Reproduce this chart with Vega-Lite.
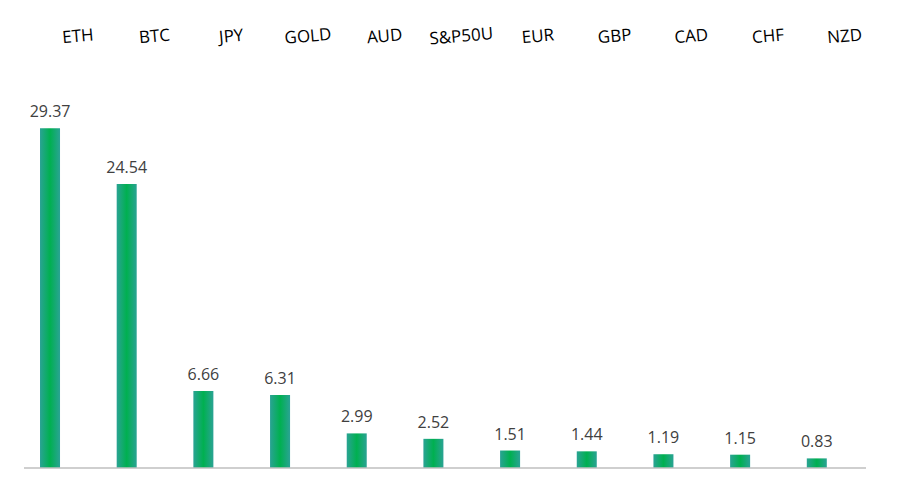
{
  "$schema": "https://vega.github.io/schema/vega-lite/v6.json",
  "autosize": {"type": "none"},
  "padding": {"left": 24, "top": 63, "right": 37, "bottom": 20},
  "width": 842,
  "height": 405,
  "background": "white",
  "config": {"view": {"stroke": null}, "font": "Open Sans"},
  "data": {"values": [
    {"asset": "ETH", "value": 29.37},
    {"asset": "BTC", "value": 24.54},
    {"asset": "JPY", "value": 6.66},
    {"asset": "GOLD", "value": 6.31},
    {"asset": "AUD", "value": 2.99},
    {"asset": "S&P50U", "value": 2.52},
    {"asset": "EUR", "value": 1.51},
    {"asset": "GBP", "value": 1.44},
    {"asset": "CAD", "value": 1.19},
    {"asset": "CHF", "value": 1.15},
    {"asset": "NZD", "value": 0.83}
  ]},
  "encoding": {
    "x": {
      "field": "asset", "type": "nominal", "sort": null,
      "scale": {"paddingInner": 0.739, "paddingOuter": 0.36, "align": 0.29},
      "axis": null
    }
  },
  "layer": [
    {
      "mark": {
        "type": "bar",
        "color": {
          "gradient": "linear", "x1": 0, "x2": 1, "y1": 0, "y2": 0,
          "stops": [
            {"offset": 0, "color": "#2aa394"},
            {"offset": 0.5, "color": "#00b050"},
            {"offset": 1, "color": "#2aa394"}
          ]
        }
      },
      "encoding": {
        "y": {"field": "value", "type": "quantitative", "scale": {"domain": [0, 35], "nice": false}, "axis": null}
      }
    },
    {
      "mark": {"type": "text", "baseline": "bottom", "dy": -8, "fontSize": 16, "color": "#404040", "font": "Open Sans"},
      "encoding": {
        "y": {"field": "value", "type": "quantitative"},
        "text": {"field": "value", "type": "quantitative", "format": ".2f"}
      }
    },
    {
      "mark": {"type": "text", "baseline": "middle", "align": "center", "dx": 28, "angle": 355, "fontSize": 17, "color": "#000000", "font": "Open Sans", "clip": false},
      "encoding": {
        "y": {"datum": 37.05, "type": "quantitative"},
        "text": {"field": "asset", "type": "nominal"}
      }
    },
    {
      "data": {"values": [{"base": 0}]},
      "mark": {"type": "rule", "color": "#bfbfbf", "strokeWidth": 1.5},
      "encoding": {
        "x": null,
        "y": {"field": "base", "type": "quantitative"}
      }
    }
  ]
}
